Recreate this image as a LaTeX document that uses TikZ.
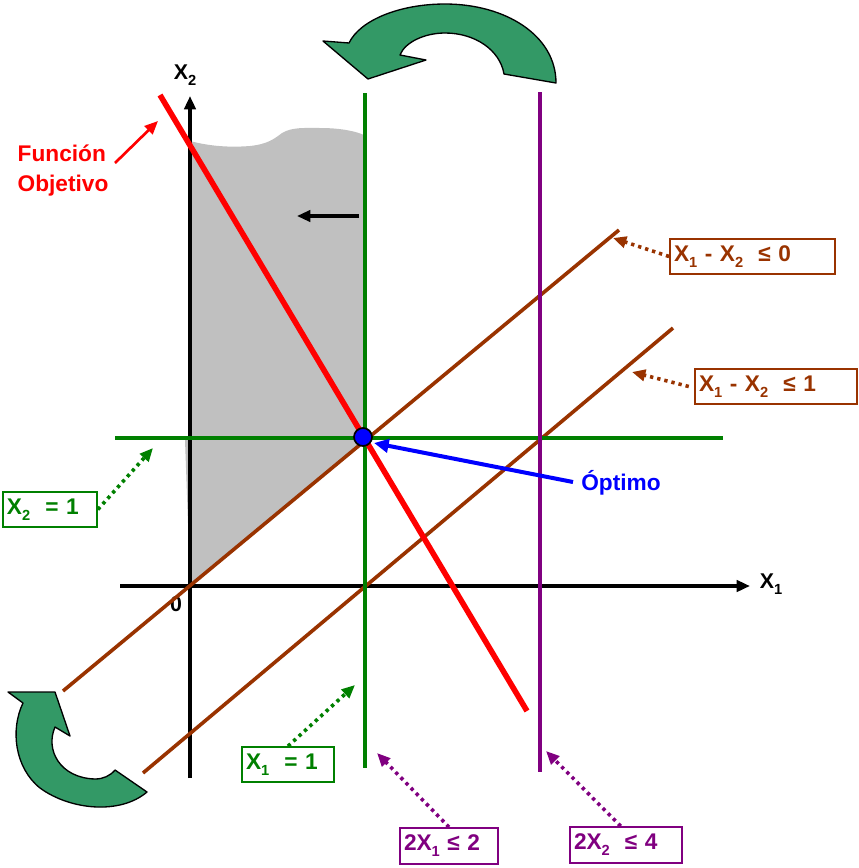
\documentclass[tikz,border=0pt]{standalone}
\usepackage{fontspec}
\setmainfont{Liberation Sans}
\usetikzlibrary{arrows.meta}
\definecolor{brn}{HTML}{993300}
\definecolor{grn}{HTML}{008000}
\definecolor{prp}{HTML}{800080}
\definecolor{arw}{HTML}{339966}
\definecolor{regiongray}{HTML}{C0C0C0}
\newcommand{\lsub}[1]{\raisebox{-0.5ex}{\fontsize{11}{11}\selectfont #1}}
\begin{document}
\begin{tikzpicture}[x=0.75pt,y=-0.75pt,
  lbl/.style={font=\fontsize{17}{22.5}\selectfont\bfseries},
  cbox/.style={draw, line width=1.3pt, inner xsep=3pt, inner ysep=0pt, align=left, lbl},
  dotarrow/.style={line width=2.7pt, dash pattern=on 2.5pt off 3pt, -{Triangle[length=10pt,width=8.5pt]}},
  axis/.style={line width=2.5pt, -{Triangle[length=10pt,width=8.5pt]}},
  curvarrow/.style={fill=arw, draw=black, line width=1pt, line join=round}]
\useasboundingbox (0,0) rectangle (859,868);

% feasible region
\fill[regiongray] (190,141) .. controls (205,145) and (225,148) .. (250,146)
  .. controls (268,144) and (274,139) .. (282,133)
  .. controls (292,127) and (305,128) .. (320,128)
  .. controls (340,128) and (355,131) .. (364,135)
  -- (364,440) -- (190,585) -- cycle;
\fill[regiongray] (190,578) -- (185,440) -- (192,438) -- cycle;

% axes
\coordinate (ax2a) at (190,778); \coordinate (ax2b) at (190,96);
\coordinate (ax1a) at (120,586); \coordinate (ax1b) at (750,586);
\draw[axis] (ax2a) -- (ax2b);
\draw[axis] (ax1a) -- (ax1b);
\node[font=\fontsize{16}{16}\selectfont\bfseries] (lx2) at (185,75) {X\lsub{2}};
\node[font=\fontsize{16}{16}\selectfont\bfseries] (lx1) at (771,584) {X\lsub{1}};
\node[font=\fontsize{16}{16}\selectfont\bfseries] (l0) at (176,604) {0};

% constraint lines
\coordinate (b1a) at (63,691); \coordinate (b1b) at (619,230);
\coordinate (b2a) at (143,773); \coordinate (b2b) at (673,328);
\draw[brn, line width=2.7pt] (b1a) -- (b1b);
\draw[brn, line width=2.7pt] (b2a) -- (b2b);
\coordinate (gva) at (365,93); \coordinate (gvb) at (365,768);
\coordinate (gha) at (115,438); \coordinate (ghb) at (723,438);
\coordinate (pva) at (540,92); \coordinate (pvb) at (540,772);
\draw[grn, line width=2.9pt] (gva) -- (gvb);
\draw[grn, line width=2.9pt] (gha) -- (ghb);
\draw[prp, line width=2.9pt] (pva) -- (pvb);
% objective
\coordinate (ra) at (160,95); \coordinate (rb) at (527,711);
\draw[red, line width=4.2pt] (ra) -- (rb);

% small black arrow
\coordinate (sa) at (359,216); \coordinate (sb) at (297,216);
\draw[line width=2.3pt, -{Triangle[length=10pt,width=8.5pt]}] (sa) -- (sb);

% optimum
\node[circle, fill=blue, draw=black, line width=1.3pt, minimum size=13.5pt, inner sep=0pt] (opt) at (363,437) {};
\node[lbl, text=blue] (optl) at (621,483) {Óptimo};
\coordinate (optt) at (374,443);
\coordinate (opts) at (573,482);
\draw[blue, line width=3pt, -{Triangle[length=11pt,width=10pt]}] (opts) -- (optt);

% objective function label
\node[lbl, text=red, anchor=west, align=left] (fo) at (13,171) {Función\\Objetivo};
\coordinate (fos) at (115,163);
\coordinate (fot) at (158,121);
\draw[red, line width=2pt, -{Triangle[length=10pt,width=8.5pt]}] (fos) -- (fot);

% curved arrows
\draw[curvarrow] (504,74) -- (556,83) .. controls (556,35) and (505,4) .. (445,4)
  .. controls (400,4) and (360,20) .. (349,43) -- (323,41) -- (368,79) -- (426,60) -- (400,55)
  .. controls (405,42) and (425,33) .. (445,33) .. controls (475,33) and (500,50) .. (504,74) -- cycle;
\draw[curvarrow] (8,692) -- (55,692) -- (70,736) -- (55,727)
  .. controls (45,750) and (60,778) .. (95,779) .. controls (103,779) and (110,776) .. (115,770)
  -- (147,792) .. controls (120,815) and (70,810) .. (40,788)
  .. controls (15,768) and (10,730) .. (23,703) -- cycle;

% labels with boxes
\node[cbox, brn, text=brn, minimum width=123.75pt, text width=117.75pt, minimum height=26.25pt] (bl0) at (752.5,256.5) {X\lsub{1} - X\lsub{2} ~≤ 0};
\node[cbox, brn, text=brn, minimum width=121.5pt, text width=115.5pt, minimum height=26.25pt] (bl1) at (776,386.5) {X\lsub{1} - X\lsub{2} ~≤ 1};
\node[cbox, grn, text=grn, minimum width=70.5pt, text width=64.5pt, minimum height=26.25pt] (bx2) at (50,509.5) {X\lsub{2} ~= 1};
\node[cbox, grn, text=grn, minimum width=69pt, text width=63pt, minimum height=26.25pt] (bx1) at (288,764.5) {X\lsub{1} ~= 1};
\node[cbox, prp, text=prp, minimum width=73.5pt, text width=67.5pt, minimum height=27pt] (bp1) at (449,846) {2X\lsub{1} ≤ 2};
\node[cbox, prp, text=prp, minimum width=84pt, text width=78pt, minimum height=27pt] (bp2) at (626,845) {2X\lsub{2} ~≤ 4};

\coordinate (t0) at (613,238);
\coordinate (t1) at (632,372);
\coordinate (tx2) at (153,448);
\coordinate (tx1) at (355,685);
\coordinate (tp1) at (377,753);
\coordinate (tp2) at (546,751);
\draw[dotarrow, brn] (bl0.west) -- (t0);
\draw[dotarrow, brn] ([xshift=-4pt]bl1.west) -- (t1);
\draw[dotarrow, grn] (bx2.east) -- (tx2);
\draw[dotarrow, grn] (bx1.north) -- (tx1);
\draw[dotarrow, prp] (bp1.north) -- (tp1);
\draw[dotarrow, prp] ([xshift=-4pt]bp2.north) -- (tp2);
\end{tikzpicture}
\end{document}
